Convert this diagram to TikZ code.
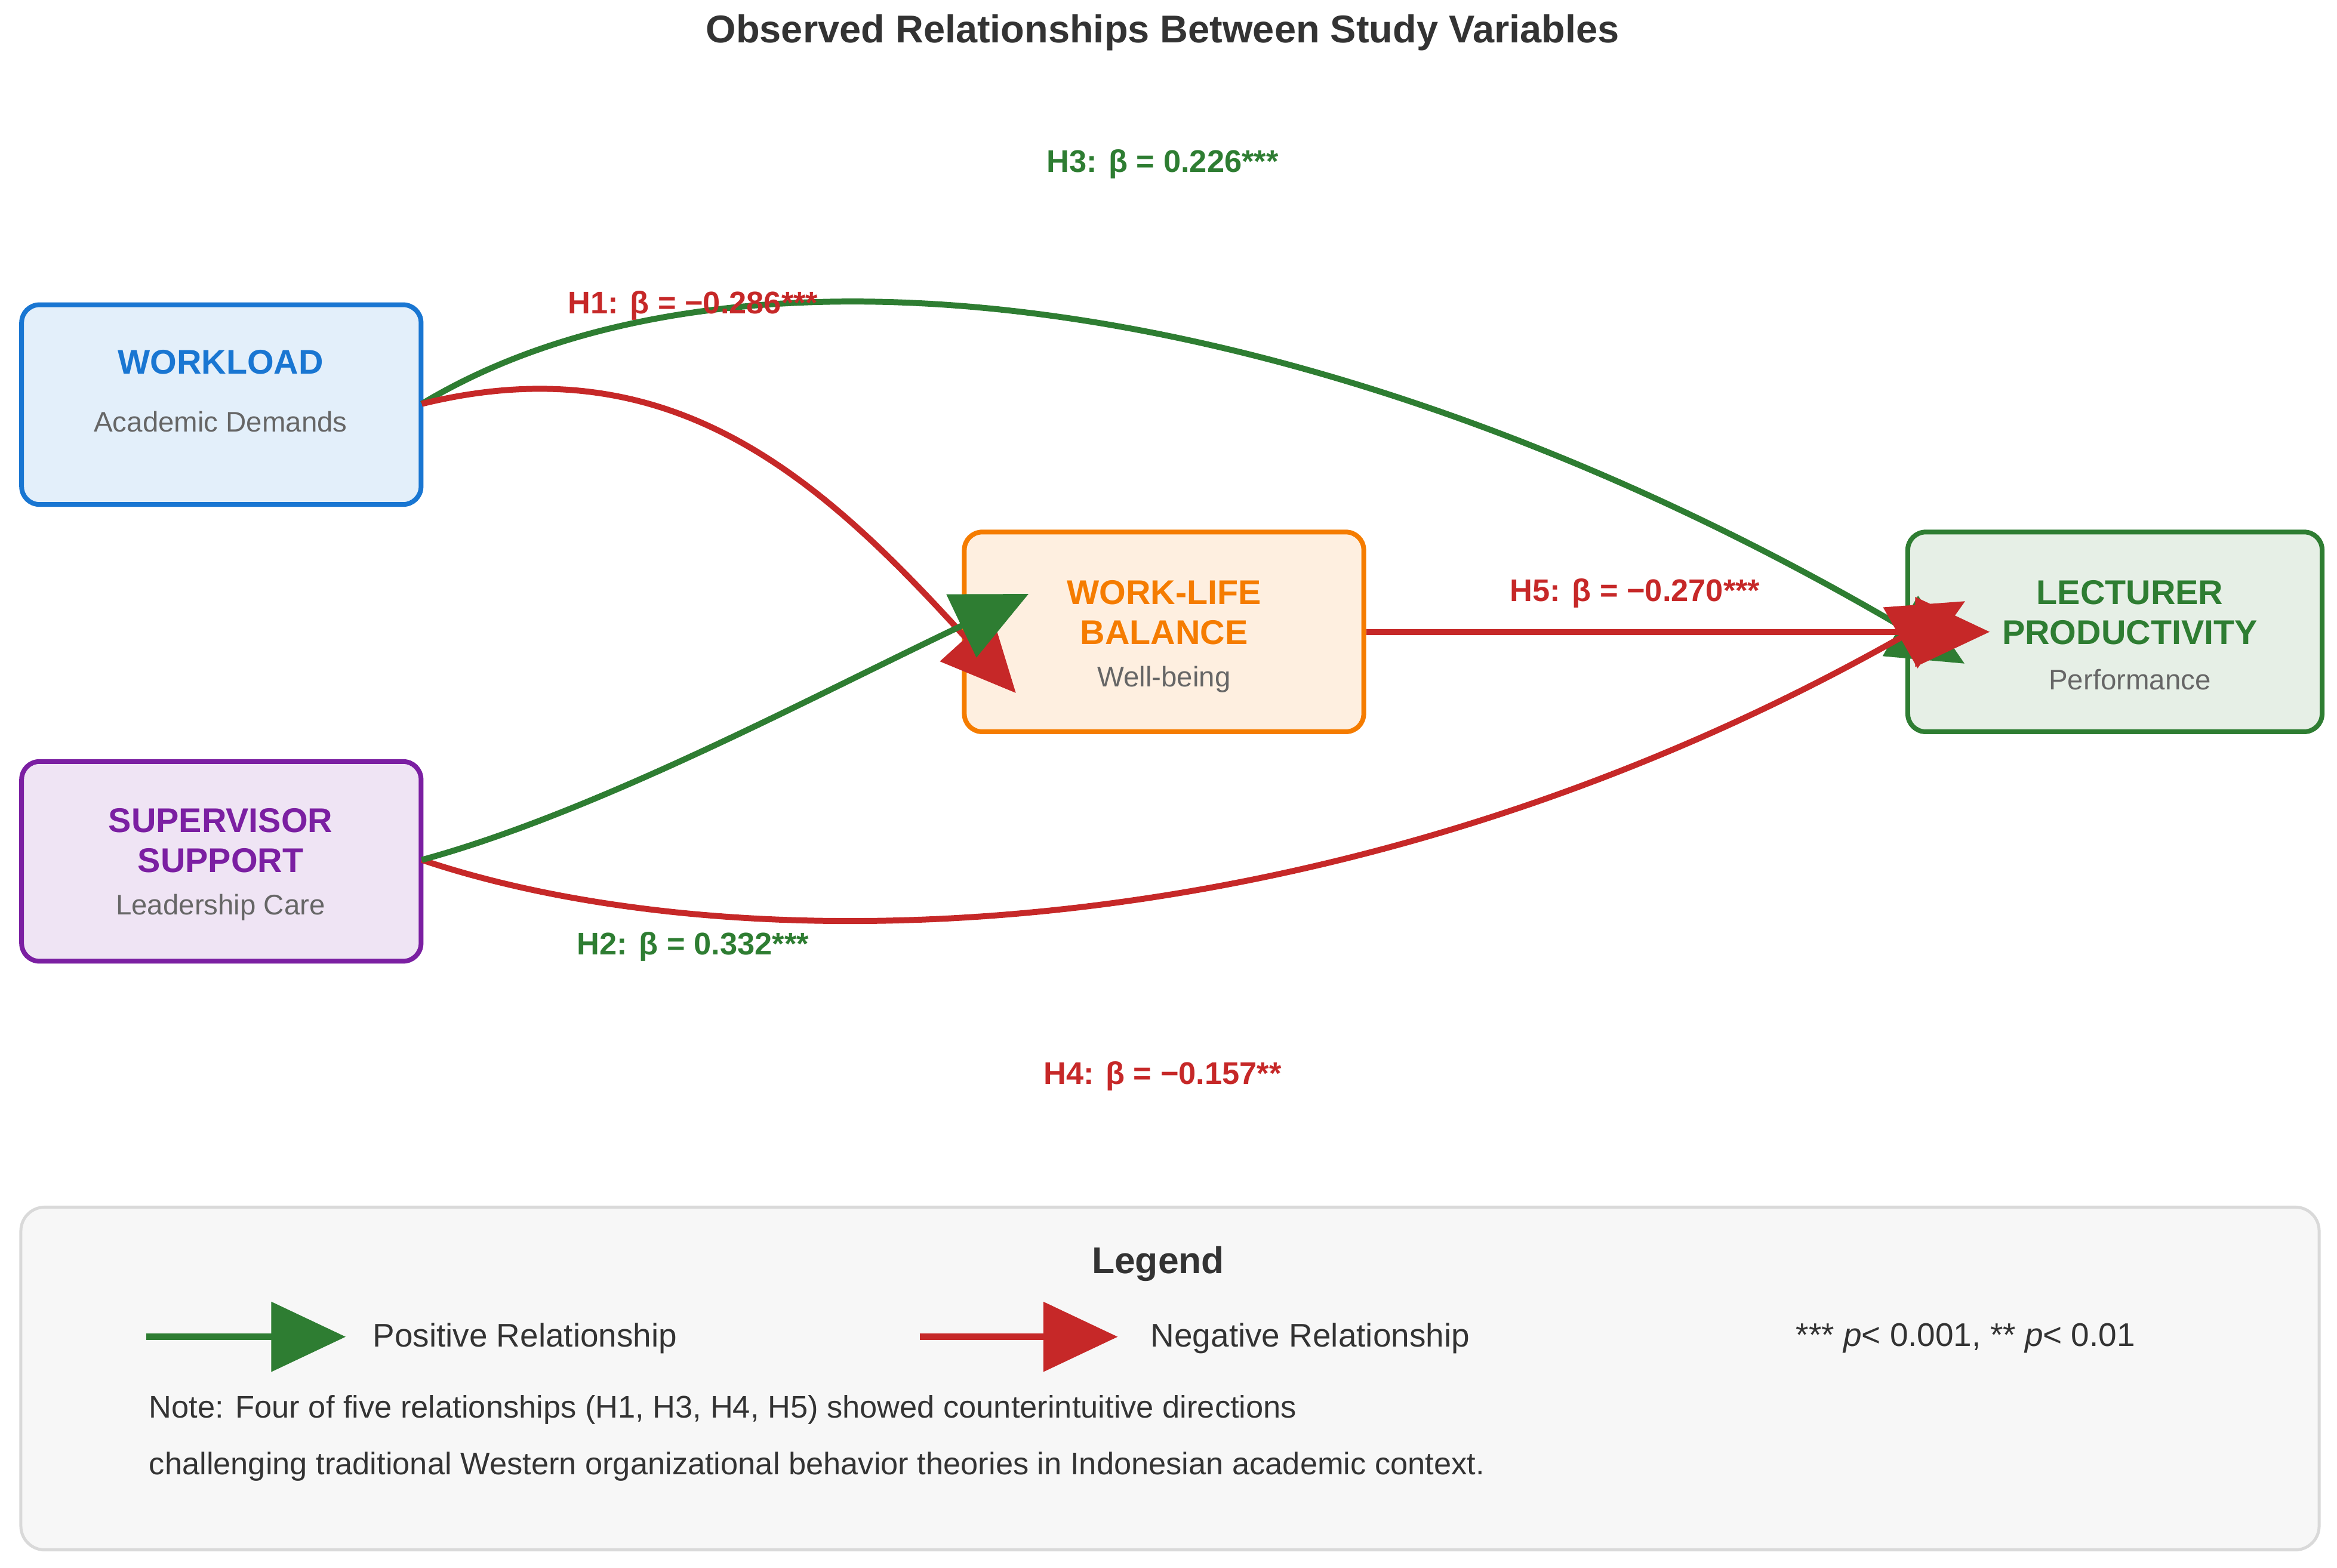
\documentclass[tikz,border=0pt]{standalone}
\usepackage{fontspec}
\setmainfont{Liberation Sans}
\usetikzlibrary{arrows.meta}
\definecolor{gr}{HTML}{2E7D32}\definecolor{rd}{HTML}{C62828}
\definecolor{bl}{HTML}{1976D2}\definecolor{pu}{HTML}{7B1FA2}\definecolor{og}{HTML}{F57C00}
\definecolor{txt}{HTML}{333333}\definecolor{sub}{HTML}{666666}
\begin{document}
\begin{tikzpicture}[x=0.5pt,y=-0.5pt,
 box/.style={draw,line width=1.6pt,rounded corners=6pt,minimum width=134pt,minimum height=67pt,align=center},
 ttl/.style={font=\fontsize{11.5}{13.5}\selectfont\bfseries},
 sb/.style={font=\fontsize{9.5}{11}\selectfont,text=sub},
 lab/.style={font=\fontsize{10.5}{12}\selectfont\bfseries},
 con/.style={line width=2pt,shorten >=-25pt,-{Triangle[length=25pt,width=23pt]}}]
\useasboundingbox (0,0) rectangle (1568,1052);
\node[font=\fontsize{13}{15}\selectfont\bfseries,text=txt] (title) at (780,22) {Observed Relationships Between Study Variables};
\node[box,draw=bl,fill=bl!12] (wl) at (148.5,271.5) {};
\node[box,draw=pu,fill=pu!12] (ss) at (148.5,578) {};
\node[box,draw=og,fill=og!12] (wlb) at (781,424) {};
\node[box,draw=gr,fill=gr!12,minimum width=139pt] (lp) at (1419,424) {};
\coordinate (wlo) at (283,271); \coordinate (sso) at (283,577);
\coordinate (e1) at (648,428); \coordinate (e2) at (645,420);
\coordinate (e3) at (1275,420); \coordinate (e4) at (1275,428); \coordinate (e5) at (1285,424);
\draw[con,gr] (wlo) .. controls (500,140) and (900,200) .. (e3);
\draw[con,rd] (wlo) .. controls (450,230) and (550,320) .. (e1);
\draw[con,rd] (sso) .. controls (500,650) and (900,640) .. (e4);
\draw[con,rd] (wlb.east) -- (e5);
\draw[con,gr] (sso) .. controls (400,545) and (540,470) .. (e2);
\node[ttl,text=bl] (wlt) at (148,243) {WORKLOAD};
\node[sb] (wls) at (148,283) {Academic Demands};
\node[ttl,text=pu,align=center] (sst) at (148,564) {SUPERVISOR\\SUPPORT};
\node[sb] (sss) at (148,609) {Leadership Care};
\node[ttl,text=og,align=center] (wlbt) at (781,411) {WORK-LIFE\\BALANCE};
\node[sb] (wlbs) at (781,456) {Well-being};
\node[ttl,text=gr,align=center] (lpt) at (1429,411) {LECTURER\\PRODUCTIVITY};
\node[sb] (lps) at (1429,456) {Performance};
\node[lab,text=gr] (h3) at (780,110) {H3: β = 0.226***};
\node[lab,text=rd] (h1) at (465,205) {H1: β = −0.286***};
\node[lab,text=rd] (h5) at (1097,398) {H5: β = −0.270***};
\node[lab,text=gr] (h2) at (465,635) {H2: β = 0.332***};
\node[lab,text=rd] (h4) at (780,722) {H4: β = −0.157**};
\draw[draw=black!15,fill=black!3,line width=1pt,rounded corners=8pt] (14,810) rectangle (1556,1040);
\node[font=\fontsize{12.5}{14}\selectfont\bfseries,text=txt] (lg) at (777,848) {Legend};
\coordinate (pa) at (98,897); \coordinate (pb) at (182,897);
\coordinate (na) at (617,897); \coordinate (nb) at (700,897);
\draw[con,gr,line width=2.2pt] (pa) -- (pb);
\draw[con,rd,line width=2.2pt] (na) -- (nb);
\node[anchor=west,font=\fontsize{11}{13}\selectfont,text=txt] (pt) at (243,898) {Positive Relationship};
\node[anchor=west,font=\fontsize{11}{13}\selectfont,text=txt] (nt) at (765,898) {Negative Relationship};
\node[anchor=west,font=\fontsize{11}{13}\selectfont,text=txt] (pv) at (1198,898) {*** \textit{p}< 0.001, ** \textit{p}< 0.01};
\node[anchor=west,font=\fontsize{10.5}{19}\selectfont,text=txt,align=left] (note) at (93,965) {Note: Four of five relationships (H1, H3, H4, H5) showed counterintuitive directions\\challenging traditional Western organizational behavior theories in Indonesian academic context.};
\end{tikzpicture}
\end{document}
